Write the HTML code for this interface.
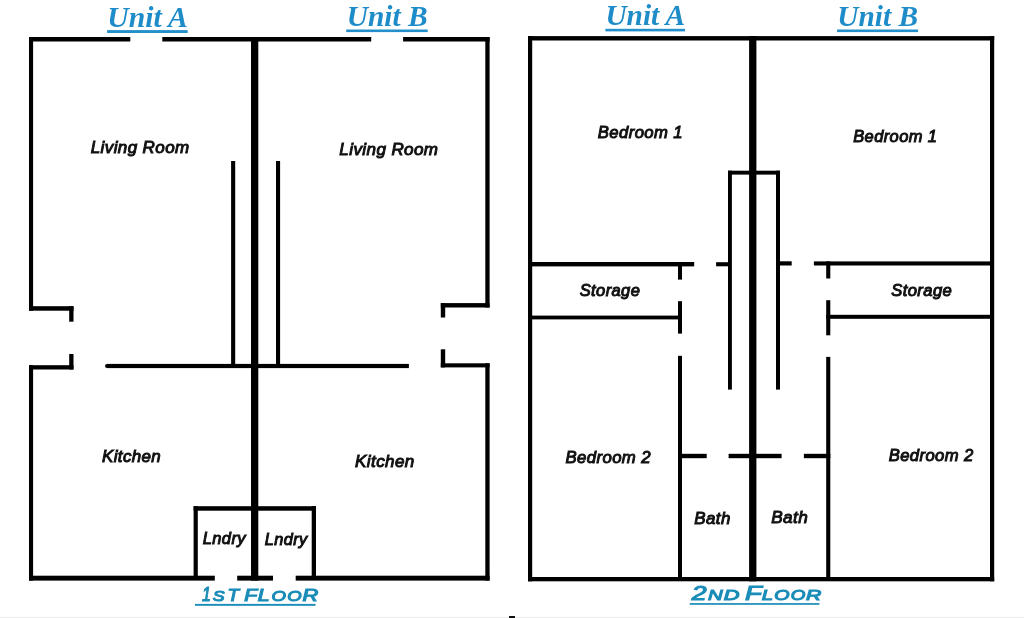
<!DOCTYPE html>
<html><head><meta charset="utf-8"><style>
html,body{margin:0;padding:0;background:#fff;width:1024px;height:618px;overflow:hidden}
svg{display:block;will-change:transform}
.room{font-family:"Liberation Sans",sans-serif;font-style:italic;fill:#111;stroke:#111;stroke-width:1.0px;letter-spacing:0.4px}
.unit{font-family:"Liberation Serif",serif;font-style:italic;font-weight:bold;fill:#1e8cc8}
.floor{font-family:"Liberation Sans",sans-serif;font-style:italic;font-weight:normal;fill:#1a8cb8;stroke:#1a8cb8;stroke-width:1.1px}
</style></head><body>
<svg width="1024" height="618" viewBox="0 0 1024 618">
<rect x="0" y="0" width="1024" height="618" fill="#fff"/>
<g fill="#000">
<rect x="29.00" y="37.00" width="101.30" height="4.50"/>
<rect x="162.30" y="37.00" width="208.90" height="4.50"/>
<rect x="403.10" y="37.00" width="86.50" height="4.50"/>
<rect x="29.00" y="37.00" width="4.10" height="273.70"/>
<rect x="29.00" y="306.20" width="44.50" height="4.50"/>
<rect x="69.20" y="306.20" width="4.30" height="15.50"/>
<rect x="69.20" y="354.00" width="4.30" height="15.50"/>
<rect x="29.00" y="365.20" width="44.50" height="4.30"/>
<rect x="29.00" y="365.20" width="4.10" height="215.40"/>
<rect x="29.00" y="575.70" width="185.80" height="4.90"/>
<rect x="237.20" y="575.70" width="35.80" height="4.90"/>
<rect x="295.70" y="575.70" width="193.90" height="4.90"/>
<rect x="485.30" y="37.00" width="4.30" height="270.50"/>
<rect x="440.80" y="303.10" width="48.80" height="4.40"/>
<rect x="440.80" y="303.10" width="4.40" height="14.40"/>
<rect x="440.80" y="349.30" width="4.40" height="18.10"/>
<rect x="440.80" y="363.30" width="48.80" height="4.10"/>
<rect x="485.30" y="363.30" width="4.30" height="217.30"/>
<rect x="251.00" y="37.00" width="7.30" height="543.60"/>
<rect x="231.10" y="161.00" width="4.10" height="205.00"/>
<rect x="276.00" y="161.00" width="4.10" height="205.00"/>
<rect x="193.60" y="506.20" width="122.40" height="4.50"/>
<rect x="193.60" y="506.20" width="4.20" height="73.80"/>
<rect x="311.70" y="506.20" width="4.30" height="73.80"/>
<rect x="528.00" y="36.10" width="466.20" height="4.40"/>
<rect x="528.00" y="36.10" width="4.20" height="545.20"/>
<rect x="990.00" y="36.10" width="4.20" height="545.20"/>
<rect x="528.00" y="577.00" width="466.20" height="4.30"/>
<rect x="749.10" y="36.10" width="7.30" height="545.20"/>
<rect x="728.00" y="170.70" width="52.00" height="3.90"/>
<rect x="728.00" y="170.70" width="3.90" height="218.90"/>
<rect x="776.00" y="170.70" width="4.00" height="218.90"/>
<rect x="528.00" y="262.00" width="166.20" height="4.40"/>
<rect x="716.10" y="262.20" width="11.90" height="4.10"/>
<rect x="780.00" y="261.30" width="11.70" height="4.20"/>
<rect x="813.90" y="261.40" width="180.10" height="4.10"/>
<rect x="678.00" y="262.00" width="4.00" height="17.60"/>
<rect x="678.00" y="301.20" width="4.00" height="32.40"/>
<rect x="678.00" y="355.80" width="4.00" height="225.20"/>
<rect x="528.00" y="315.60" width="154.00" height="3.80"/>
<rect x="826.20" y="261.40" width="4.10" height="17.10"/>
<rect x="826.20" y="300.20" width="4.10" height="35.10"/>
<rect x="826.20" y="356.90" width="4.10" height="224.10"/>
<rect x="826.20" y="314.80" width="167.80" height="4.00"/>
<rect x="678.00" y="453.80" width="28.70" height="4.40"/>
<rect x="728.60" y="453.80" width="53.00" height="4.40"/>
<rect x="803.90" y="453.80" width="26.40" height="4.40"/>
<line x1="107.1" y1="366" x2="150" y2="366" stroke="#000" stroke-width="4.2" stroke-linecap="round"/>
<rect x="107" y="363.9" width="301.9" height="4.2"/>
</g>
<g fill="#2390cc">
<rect x="107.1" y="30.1" width="80.6" height="2.9"/>
<rect x="346.2" y="29.5" width="81.5" height="2.6"/>
<rect x="605.4" y="28.8" width="79.7" height="2.6"/>
<rect x="837.1" y="29.5" width="81.0" height="2.6"/>
</g>
<g fill="#1a8cb8">
<rect x="195" y="603.9" width="120.5" height="1.9"/>
<rect x="689.7" y="603.1" width="129.7" height="1.7"/>
</g>
<rect x="0" y="617" width="1024" height="1" fill="#ececec"/>
<rect x="509" y="616" width="6" height="2" fill="#111"/>
<text x="90.73" y="153.40" font-size="16.99" class="room">Living Room</text>
<text x="339.37" y="154.70" font-size="17.05" class="room">Living Room</text>
<text x="102.00" y="462.34" font-size="16.89" class="room">Kitchen</text>
<text x="355.11" y="466.60" font-size="17.01" class="room">Kitchen</text>
<text x="202.75" y="543.95" font-size="16.47" class="room">Lndry</text>
<text x="264.86" y="545.07" font-size="16.27" class="room">Lndry</text>
<text x="597.87" y="138.10" font-size="16.66" class="room">Bedroom 1</text>
<text x="853.23" y="141.50" font-size="16.48" class="room">Bedroom 1</text>
<text x="579.73" y="296.22" font-size="16.48" class="room">Storage</text>
<text x="891.23" y="296.02" font-size="16.63" class="room">Storage</text>
<text x="565.50" y="463.35" font-size="16.74" class="room">Bedroom 2</text>
<text x="888.73" y="460.61" font-size="16.63" class="room">Bedroom 2</text>
<text x="694.37" y="523.58" font-size="16.92" class="room">Bath</text>
<text x="771.24" y="522.60" font-size="17.21" class="room">Bath</text>
<text x="107.20" y="27.30" font-size="29.70" class="unit">Unit A</text>
<text x="346.75" y="26.30" font-size="29.40" class="unit">Unit B</text>
<text x="605.40" y="25.45" font-size="29.38" class="unit">Unit A</text>
<text x="837.25" y="26.30" font-size="29.35" class="unit">Unit B</text>
<text class="floor" transform="translate(201.90,601.30) scale(0.806,1)" font-size="19.81">1</text>
<text class="floor" transform="translate(212.70,601.05) scale(1.170,1)" font-size="15.24">S</text>
<text class="floor" transform="translate(227.50,601.30) scale(1.187,1)" font-size="15.91">T</text>
<text class="floor" transform="translate(244.35,601.30) scale(1.335,1)" font-size="15.85">F</text>
<text class="floor" transform="translate(257.70,601.30) scale(1.348,1)" font-size="15.85">L</text>
<text class="floor" transform="translate(271.40,601.05) scale(1.201,1)" font-size="15.49">O</text>
<text class="floor" transform="translate(287.35,601.05) scale(1.192,1)" font-size="15.49">O</text>
<text class="floor" transform="translate(302.60,601.30) scale(1.375,1)" font-size="15.85">R</text>
<text class="floor" transform="translate(691.65,600.25) scale(1.355,1)" font-size="19.67">2</text>
<text class="floor" transform="translate(708.05,600.25) scale(1.312,1)" font-size="15.51">N</text>
<text class="floor" transform="translate(723.70,600.25) scale(1.425,1)" font-size="15.31">D</text>
<text class="floor" transform="translate(745.00,600.25) scale(1.358,1)" font-size="20.22">F</text>
<text class="floor" transform="translate(761.75,600.25) scale(1.323,1)" font-size="15.31">L</text>
<text class="floor" transform="translate(774.35,600.00) scale(1.296,1)" font-size="15.14">O</text>
<text class="floor" transform="translate(790.70,600.00) scale(1.240,1)" font-size="15.14">O</text>
<text class="floor" transform="translate(806.05,600.25) scale(1.365,1)" font-size="15.51">R</text>
</svg>
</body></html>
